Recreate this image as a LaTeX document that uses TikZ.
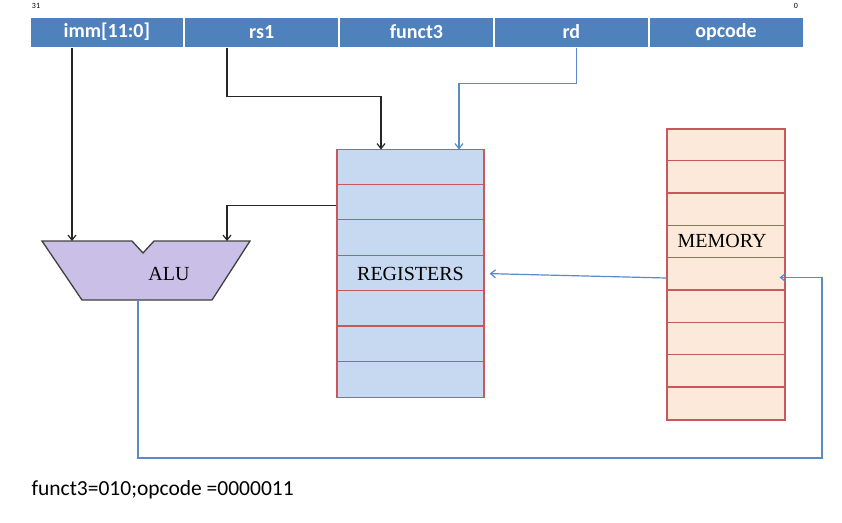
\documentclass[tikz,border=0pt]{standalone}
\usepackage{fontspec}
\setmainfont{Liberation Serif}
\newfontfamily\calibri{Carlito}
\usepackage{tikz}
\usetikzlibrary{positioning, arrows.meta, calc}

\definecolor{hdrblue}{HTML}{4F81BD}
\definecolor{regfill}{HTML}{C6D9F1}
\definecolor{memfill}{HTML}{FDE9D9}
\definecolor{rowred}{HTML}{C9585A}
\definecolor{alufill}{HTML}{CABFE6}
\definecolor{wireblue}{HTML}{5B8AC6}

\begin{document}
\begin{tikzpicture}[x=1pt, y=-1pt,
    field/.style={draw=white, line width=1pt, fill=hdrblue, text=white,
                  minimum width=153.8pt, minimum height=30pt, inner sep=0pt,
                  font=\calibri\bfseries\fontsize{20}{20}\selectfont},
    bank/.style={draw=rowred, line width=1.2pt, inner sep=0pt},
    rowline/.style={rowred, line width=1.2pt},
    lbl/.style={font=\fontsize{20}{20}\selectfont},
    blk/.style={-{Straight Barb[length=5pt, width=8pt]}, line width=1.2pt, black!85},
    blu/.style={-{Straight Barb[length=5pt, width=8pt]}, line width=1.2pt, wireblue}
]
    \useasboundingbox (0,0) rectangle (842,522);

    % Instruction format
    \node[font=\calibri\fontsize{8}{8}\selectfont] (msb) at (36,6) {31};
    \node[font=\calibri\fontsize{8}{8}\selectfont] (lsb) at (796,6) {0};
    \node[field] (imm) at (106.9,32) {imm[11:0]};
    \node[field, right=0pt of imm] (rs1) {rs1};
    \node[field, right=0pt of rs1] (funct3) {funct3};
    \node[field, right=0pt of funct3] (rd) {rd};
    \node[field, right=0pt of rd] (opcode) {opcode};

    % ALU
    \draw[fill=alufill, draw=black!75, line width=1.3pt]
        (42,241) -- (132,241) -- (143,253) -- (154,241) -- (250,241)
        -- (212,300) -- (82,300) -- cycle;
    \node[lbl] (alu) at (169,274) {ALU};
    \coordinate (alua) at (72,241);
    \coordinate (alub) at (227,241);
    \coordinate (aluout) at (138,300);

    % Registers
    \node[bank, fill=regfill, minimum width=147pt, minimum height=248pt, lbl] (reg) at (410.5,273.5) {REGISTERS};
    \foreach \i in {1,...,6}
        \draw[rowline] (reg.north west) ++(0,\i*35.43) -- ++(147,0);
    \coordinate (regin1) at (381,149.5);
    \coordinate (regin2) at (459,149.5);

    % Memory
    \node[bank, fill=memfill, minimum width=118pt, minimum height=291pt] (mem) at (726,274.5) {};
    \foreach \i in {1,...,8}
        \draw[rowline] (mem.north west) ++(0,\i*32.33) -- ++(118,0);
    \node[lbl] (memlbl) at (722,241) {MEMORY};
    \coordinate (loop) at (822,458);

    % Wires
    \draw[blk] (imm.south -| alua) -- (alua);
    \draw[blk] (rs1.south -| alub) -- ++(0,49) -| (regin1);
    \draw[blu] ([xshift=5pt]rd.south) -- ++(0,36) -| (regin2);
    \draw[blk] ([yshift=68pt]reg.west) -| (alub);
    \draw[blu, shorten >=5pt] ([yshift=-3.5pt]mem.west) -- (reg.east);
    \draw[blu, shorten >=-6pt] (aluout) |- (loop) |- ([yshift=-3pt]mem.east);

    % Encoding
    \node[font=\calibri\fontsize{21.5}{21.5}\selectfont, anchor=west] (enc) at (28,490) {funct3=010;opcode =0000011};

\end{tikzpicture}
\end{document}
